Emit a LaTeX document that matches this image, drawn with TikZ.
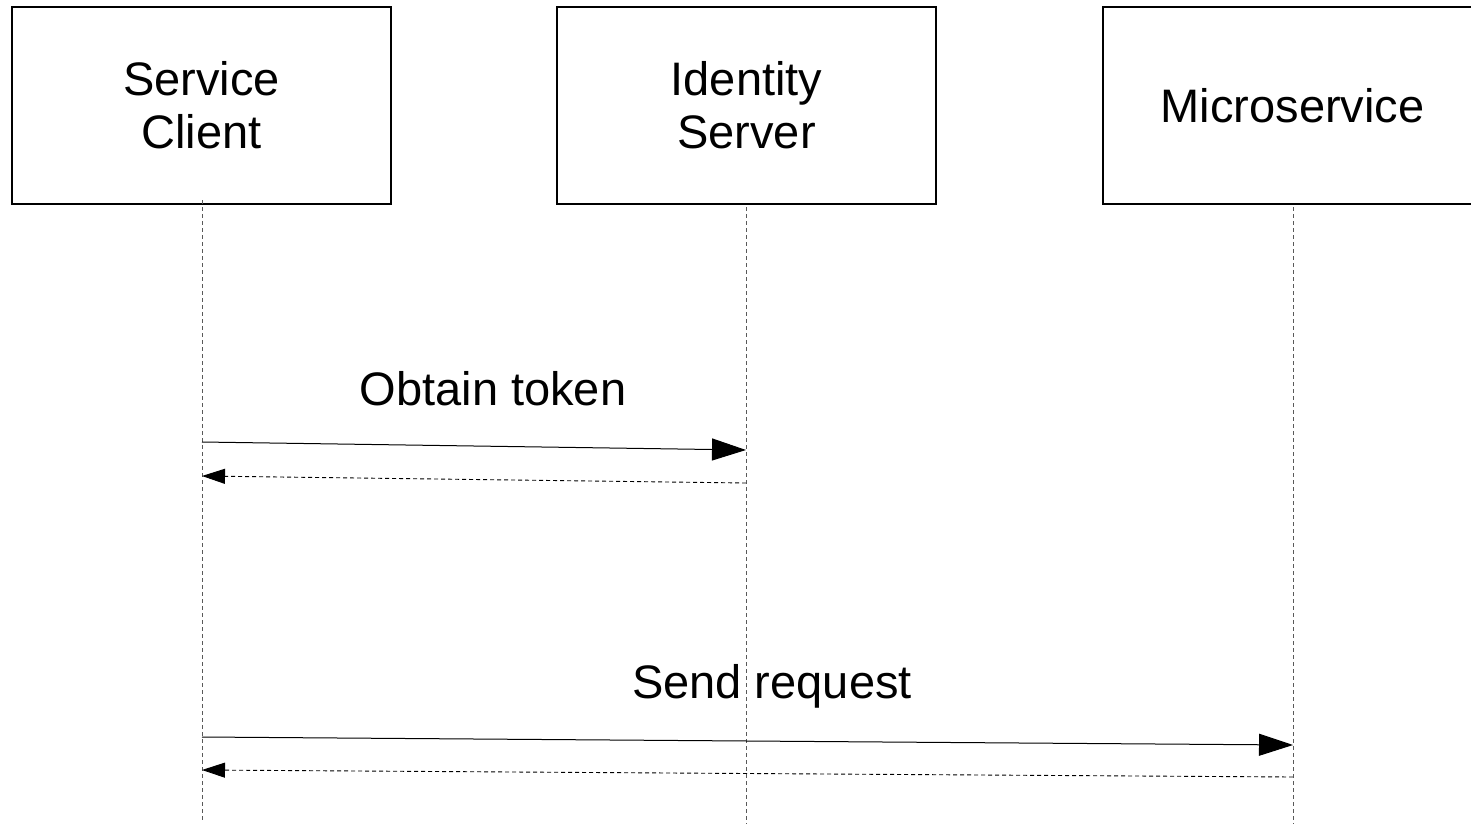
\documentclass[tikz,border=0pt]{standalone}
\usepackage{fontspec}
\setmainfont{Liberation Sans}
\usetikzlibrary{arrows.meta}

\tikzset{
  actor/.style={draw=black, line width=1.3pt, minimum width=379pt, minimum height=197pt,
    inner sep=0pt, align=center, font=\fontsize{47}{53}\selectfont},
  lifeline/.style={draw=black!65, line width=0.8pt, dash pattern=on 4pt off 3pt},
  call/.style={draw=black, line width=1pt, -{Triangle[length=34pt,width=22pt]}},
  reply/.style={draw=black, line width=0.9pt, dash pattern=on 4pt off 3pt,
    -{Triangle[length=23pt,width=15pt]}},
  msglabel/.style={font=\fontsize{47}{53}\selectfont, inner sep=0pt}
}

\begin{document}
\begin{tikzpicture}[x=1pt,y=-1pt]
  \useasboundingbox (0,0) rectangle (1471,824);

  % participants
  \node[actor] (client)   at (201.5,105.5)  {Service\\Client};
  \node[actor] (identity) at (746.5,105.5)  {Identity\\Server};
  \node[actor] (micro)    at (1292.5,105.5) {Microservice};

  % lifeline ends
  \coordinate (clientEnd)   at (202,820);
  \coordinate (identityTop) at (746,207);
  \coordinate (identityEnd) at (746,824);
  \coordinate (microTop)    at (1293,207);
  \coordinate (microEnd)    at (1293,824);
  \coordinate (clientTop)   at (202,200);

  \draw[lifeline] (clientTop) -- (clientEnd);
  \draw[lifeline] (identityTop) -- (identityEnd);
  \draw[lifeline] (microTop) -- (microEnd);

  % message anchor points on the lifelines
  \coordinate (tokReqA) at (202,442);
  \coordinate (tokReqB) at (746,450);
  \coordinate (tokResA) at (746,483);
  \coordinate (tokResB) at (202,476);
  \coordinate (reqA)    at (202,737);
  \coordinate (reqB)    at (1293,745);
  \coordinate (resA)    at (1293,777);
  \coordinate (resB)    at (202,770);

  % obtain token
  \node[msglabel] (tokLabel) at (493,389) {Obtain token};
  \draw[call]  (tokReqA) -- (tokReqB);
  \draw[reply] (tokResA) -- (tokResB);

  % send request
  \node[msglabel] (reqLabel) at (772,686) {Send request};
  \draw[call]  (reqA) -- (reqB);
  \draw[reply] (resA) -- (resB);
\end{tikzpicture}
\end{document}
